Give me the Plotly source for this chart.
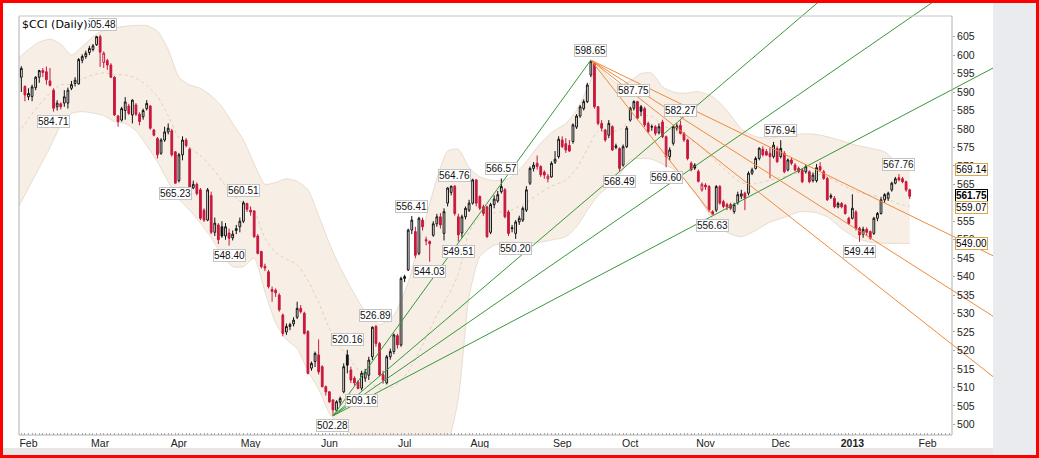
import pandas as pd
import plotly.graph_objects as go

# --- data --------------------------------------------------------------------
# trading sessions: Jan 30 2012 .. Jan 25 2013 (US market holidays removed)
holidays = ["2012-02-20", "2012-04-06", "2012-05-28", "2012-07-04", "2012-09-03",
            "2012-10-29", "2012-10-30", "2012-11-22", "2012-12-25", "2013-01-01",
            "2013-01-21"]

opens = [
    594.0, 591.5, 588.7, 588.8, 591.2, 594.0, 595.8, 595.5, 593.0, 590.5,
    586.0, 586.8, 587.0, 587.0, 591.0, 592.3, 592.2, 598.6, 599.6, 600.7,
    601.5, 602.8, 605.0, 598.0, 598.5, 597.3, 594.0, 583.5, 582.4, 585.0,
    586.2, 583.8, 586.5, 584.0, 583.3, 585.5, 586.2, 579.7, 577.4, 573.4,
    577.0, 579.2, 579.5, 573.8, 566.0, 573.0, 577.0, 574.5, 564.0, 565.0,
    563.5, 558.0, 555.3, 562.0, 552.0, 554.0, 553.5, 551.0, 551.8, 550.5,
    552.5, 553.5, 555.0, 559.8, 558.0, 557.8, 551.0, 546.8, 542.8, 541.3,
    536.5, 536.3, 535.0, 529.6, 525.0, 526.5, 527.2, 529.0, 531.4, 530.1,
    525.1, 515.2, 517.0, 518.8, 515.6, 510.2, 508.8, 506.6, 503.8, 506.0,
    508.8, 518.8, 514.7, 512.5, 511.5, 509.8, 512.5, 513.3, 518.3, 526.5,
    521.9, 513.4, 511.2, 518.3, 519.7, 524.0, 521.5, 539.5, 541.8, 552.6,
    552.2, 546.3, 555.3, 550.0, 549.5, 551.2, 554.3, 556.2, 551.7, 559.9,
    562.8, 564.5, 556.2, 551.8, 556.2, 558.0, 559.9, 566.2, 561.7, 558.9,
    558.9, 552.0, 559.5, 560.5, 563.0, 563.5, 557.5, 553.0, 551.7, 554.8,
    555.3, 558.0, 565.3, 569.3, 570.7, 569.8, 568.3, 566.5, 567.0, 571.0,
    572.5, 577.0, 576.0, 575.5, 576.6, 580.5, 583.5, 585.5, 587.4, 594.6,
    597.8, 586.0, 581.5, 579.7, 578.3, 580.6, 575.0, 574.7, 570.2, 575.2,
    582.4, 585.6, 587.4, 586.0, 585.5, 581.5, 580.5, 580.6, 579.0, 581.9,
    577.9, 572.5, 576.1, 580.2, 581.0, 578.8, 577.0, 570.7, 570.2, 568.5,
    563.5, 564.8, 564.4, 557.6, 558.0, 564.4, 560.3, 559.5, 559.5, 557.6,
    560.0, 561.8, 562.6, 562.6, 568.0, 569.3, 572.0, 574.5, 573.9, 573.4,
    572.5, 574.7, 572.5, 573.4, 568.9, 571.6, 570.2, 569.3, 568.9, 568.4,
    568.4, 566.0, 566.0, 569.8, 568.4, 566.6, 561.5, 561.2, 558.9, 559.8,
    559.3, 555.8, 555.8, 557.5, 553.1, 551.5, 552.8, 552.2, 551.7, 555.8,
    557.1, 560.8, 561.2, 563.5, 565.3, 566.8, 566.5, 565.7, 563.5,
]
highs = [
    597.0, 591.8, 591.0, 592.0, 594.3, 596.0, 596.5, 596.9, 596.5, 591.0,
    587.8, 587.2, 590.5, 591.2, 593.0, 594.0, 599.2, 600.2, 601.2, 602.5,
    603.0, 605.2, 605.48, 601.0, 599.0, 597.8, 594.3, 583.8, 586.0, 588.6,
    586.8, 588.0, 587.0, 584.5, 585.5, 587.8, 586.5, 580.0, 577.8, 577.5,
    580.6, 581.5, 580.0, 574.0, 573.5, 578.0, 577.5, 575.0, 566.0, 565.5,
    564.0, 558.5, 564.0, 563.0, 556.0, 554.5, 555.0, 554.5, 553.0, 552.5,
    554.0, 556.0, 560.51, 560.0, 559.0, 558.0, 551.5, 547.0, 543.5, 541.8,
    537.3, 536.8, 535.5, 530.0, 527.3, 527.5, 529.0, 533.2, 532.3, 530.5,
    525.5, 517.0, 519.7, 523.0, 516.0, 510.5, 509.0, 506.8, 506.5, 507.5,
    516.5, 520.16, 515.6, 513.0, 512.0, 514.5, 515.0, 518.3, 526.5, 526.89,
    522.3, 514.5, 518.8, 520.5, 524.6, 524.5, 540.0, 540.5, 553.0, 556.41,
    553.5, 556.2, 556.0, 550.8, 549.8, 555.0, 557.0, 557.2, 558.5, 564.2,
    564.6, 564.76, 557.0, 556.8, 559.0, 560.8, 566.5, 566.4, 562.0, 559.5,
    559.2, 560.0, 562.0, 563.2, 566.57, 564.0, 558.0, 554.0, 555.3, 556.5,
    559.0, 564.5, 569.8, 571.0, 572.8, 570.2, 568.8, 567.8, 571.2, 574.0,
    578.0, 578.0, 577.5, 577.0, 581.5, 584.0, 586.5, 588.0, 592.5, 598.65,
    598.0, 586.2, 582.4, 580.0, 582.4, 581.0, 576.0, 575.0, 575.8, 580.8,
    586.0, 587.75, 587.6, 586.5, 586.0, 582.0, 581.2, 581.0, 581.5, 582.5,
    578.2, 575.0, 581.0, 581.5, 582.27, 579.2, 577.3, 571.2, 570.7, 569.0,
    565.5, 565.3, 564.8, 558.0, 564.8, 564.8, 560.8, 560.0, 560.0, 560.0,
    563.0, 563.5, 563.0, 568.5, 569.5, 572.5, 575.0, 575.3, 574.5, 575.0,
    576.5, 575.3, 576.94, 574.0, 572.0, 572.2, 570.7, 569.8, 569.2, 570.3,
    568.8, 568.2, 570.5, 571.0, 568.9, 567.0, 562.5, 561.8, 560.3, 560.2,
    559.7, 556.2, 562.3, 558.0, 553.5, 553.5, 553.3, 552.5, 556.2, 557.5,
    561.5, 562.6, 563.0, 565.7, 567.0, 567.76, 567.0, 566.0, 563.8,
]
lows = [
    590.0, 587.5, 587.8, 587.5, 590.5, 592.5, 594.0, 592.0, 591.5, 584.71,
    585.0, 585.3, 586.0, 585.5, 590.5, 591.5, 592.0, 597.8, 599.0, 600.0,
    601.0, 602.5, 596.8, 596.5, 596.0, 593.8, 583.5, 580.6, 582.0, 582.5,
    583.8, 581.5, 583.5, 581.0, 582.5, 585.0, 579.8, 578.0, 572.0, 573.0,
    576.5, 578.5, 572.5, 565.23, 565.5, 571.5, 575.0, 563.5, 563.7, 562.0,
    555.3, 554.8, 555.0, 551.5, 551.0, 548.8, 550.5, 550.0, 548.4, 549.8,
    551.5, 552.0, 554.5, 557.5, 556.5, 550.5, 546.0, 542.2, 541.5, 536.8,
    533.2, 534.5, 530.5, 523.8, 524.2, 525.5, 526.5, 528.5, 530.0, 524.3,
    513.5, 514.5, 515.5, 513.5, 510.0, 507.8, 505.8, 502.28, 503.5, 505.0,
    508.4, 513.8, 511.2, 510.5, 509.5, 509.16, 511.5, 512.0, 517.4, 521.0,
    513.0, 511.0, 510.8, 517.5, 519.0, 520.5, 521.0, 538.5, 541.5, 551.5,
    545.0, 545.8, 552.5, 548.5, 544.03, 550.8, 553.5, 553.0, 549.8, 559.0,
    562.0, 556.5, 549.51, 550.5, 555.5, 557.5, 559.5, 559.0, 558.0, 556.5,
    550.5, 551.5, 558.5, 560.0, 562.5, 555.8, 551.0, 552.0, 550.2, 554.0,
    554.8, 557.5, 564.8, 568.5, 569.0, 567.0, 566.5, 565.5, 566.8, 570.5,
    572.0, 574.8, 573.5, 573.8, 576.0, 580.0, 583.0, 585.0, 587.0, 594.0,
    585.5, 581.0, 579.3, 576.5, 577.5, 574.0, 574.5, 568.49, 569.8, 574.8,
    582.0, 585.0, 582.5, 583.5, 580.5, 578.8, 579.5, 578.2, 578.5, 577.5,
    569.6, 571.5, 575.5, 579.5, 578.5, 576.5, 571.5, 568.5, 568.9, 565.5,
    563.0, 563.5, 557.5, 556.63, 557.5, 559.5, 558.5, 558.0, 558.0, 557.0,
    559.5, 561.0, 558.0, 562.0, 567.5, 569.0, 571.5, 572.5, 572.8, 566.6,
    572.0, 570.8, 572.0, 568.0, 568.5, 570.2, 568.5, 568.0, 565.3, 567.9,
    565.3, 565.5, 565.5, 568.5, 566.2, 560.5, 561.0, 558.5, 558.5, 558.5,
    556.8, 554.0, 555.5, 552.5, 549.44, 550.5, 551.0, 550.0, 551.3, 555.0,
    556.8, 560.0, 560.5, 563.0, 565.0, 565.8, 565.3, 563.0, 561.0,
]
closes = [
    596.4, 589.2, 589.6, 591.4, 594.0, 595.8, 595.3, 593.3, 591.8, 585.6,
    587.0, 586.0, 588.7, 590.5, 592.0, 593.2, 598.8, 599.6, 600.5, 601.8,
    602.5, 605.0, 600.8, 600.5, 597.3, 594.0, 583.8, 582.0, 585.5, 587.3,
    584.2, 587.8, 584.0, 582.0, 585.0, 586.9, 580.2, 578.3, 573.0, 577.0,
    579.2, 580.2, 573.0, 565.3, 573.0, 577.0, 575.5, 564.0, 565.0, 562.5,
    555.8, 555.3, 563.5, 552.0, 554.5, 550.0, 551.0, 553.5, 550.4, 551.5,
    553.0, 555.0, 560.0, 558.2, 557.5, 550.8, 546.3, 542.7, 542.3, 537.3,
    536.0, 535.6, 531.0, 524.6, 526.5, 527.0, 528.2, 531.4, 530.5, 524.6,
    513.8, 516.5, 519.2, 514.2, 510.2, 508.8, 506.1, 503.9, 506.1, 507.0,
    515.6, 516.0, 512.0, 511.2, 509.7, 513.8, 514.2, 517.4, 526.3, 521.9,
    513.4, 512.0, 518.3, 519.7, 524.2, 521.5, 539.5, 540.0, 552.6, 555.3,
    545.8, 555.8, 553.5, 549.7, 548.9, 554.3, 556.2, 554.0, 557.6, 564.0,
    564.5, 557.1, 551.3, 556.2, 558.5, 559.9, 566.2, 559.9, 558.5, 557.1,
    550.8, 559.5, 561.0, 562.2, 564.4, 556.2, 551.7, 553.2, 554.8, 555.8,
    558.5, 563.5, 569.3, 570.2, 569.8, 567.6, 567.5, 567.2, 570.7, 571.8,
    577.2, 575.2, 574.3, 574.0, 581.1, 583.5, 586.0, 587.4, 591.9, 598.3,
    586.0, 581.5, 580.2, 577.0, 581.5, 574.3, 575.4, 569.3, 575.2, 580.2,
    585.6, 587.4, 582.9, 584.8, 581.1, 579.3, 580.6, 578.8, 580.6, 577.9,
    572.5, 574.3, 580.6, 580.8, 578.8, 577.0, 572.0, 568.9, 569.4, 565.8,
    565.0, 564.3, 558.0, 556.9, 564.4, 559.9, 559.0, 558.9, 558.5, 559.5,
    562.2, 562.4, 561.2, 568.0, 568.9, 572.0, 574.8, 573.0, 572.9, 572.5,
    575.6, 571.1, 574.7, 568.4, 571.6, 570.7, 568.9, 568.4, 565.7, 569.8,
    565.7, 567.5, 569.5, 568.9, 566.6, 560.8, 561.9, 558.9, 559.8, 558.9,
    557.1, 554.4, 558.5, 553.0, 551.3, 552.8, 552.0, 550.4, 555.8, 557.1,
    560.8, 562.2, 562.6, 565.3, 566.5, 566.2, 565.7, 563.5, 561.75,
]

# Bollinger band (20,2) read at sample sessions (session number from Jan 30 2012)
band_day = [
    -1, 2, 5, 8, 11, 14, 17, 20, 23, 26, 29, 32, 35, 38, 41, 44, 47, 50, 53, 56,
    59, 62, 65, 68, 71, 74, 77, 80, 83, 86, 89, 92, 96, 100, 104, 108, 112, 116, 119, 122,
    125, 128, 132, 136, 140, 144, 148, 152, 155, 158, 161, 164, 167, 170, 173, 176, 179, 182, 185, 189,
    193, 197, 201, 205, 209, 213, 217, 221, 225, 229, 233, 237, 241, 245, 248,
]
band_upper = [
    599.0, 601.5, 603.5, 604.3, 603.0, 600.0, 602.3, 605.0, 606.8, 607.4,
    607.8, 608.0, 608.0, 606.5, 601.5, 594.0, 591.9, 591.0, 589.0, 586.0,
    581.5, 577.0, 570.5, 565.0, 565.5, 566.5, 565.8, 563.5, 556.5, 549.0,
    542.5, 537.0, 530.5, 527.0, 529.5, 538.5, 552.5, 566.5, 574.0, 574.5,
    569.5, 567.0, 566.0, 566.5, 570.0, 575.0, 579.0, 581.5, 585.0, 591.0,
    597.0, 594.0, 592.0, 593.0, 595.0, 595.1, 591.4, 590.0, 589.6, 590.1,
    588.7, 585.0, 580.0, 577.9, 577.5, 578.2, 578.6, 578.6, 577.9, 576.8,
    575.6, 574.8, 573.8, 570.3, 569.14,
]
band_lower = [
    558.5, 564.0, 569.5, 575.0, 581.0, 584.2, 584.7, 584.3, 583.6, 582.0,
    581.5, 579.5, 575.5, 571.1, 565.7, 561.0, 558.0, 554.5, 550.5, 545.9,
    542.7, 542.7, 545.0, 536.0, 527.5, 523.0, 520.5, 514.5, 509.5, 503.0,
    499.5, 497.5, 494.5, 492.5, 491.0, 490.0, 490.5, 492.5, 495.0, 507.0,
    534.6, 545.4, 548.5, 549.0, 549.0, 549.2, 549.9, 550.8, 553.5, 558.0,
    562.0, 564.5, 567.5, 571.6, 572.0, 571.8, 570.5, 569.2, 566.5, 561.6,
    555.5, 552.0, 550.8, 552.5, 554.8, 556.0, 557.5, 557.5, 556.2, 553.0,
    550.5, 549.3, 549.0, 549.0, 549.0,
]

# annotated swing highs / lows (session number, value, label above?)
label_day = [22, 9, 43, 62, 58, 87, 91, 95, 99, 109, 114, 121, 122, 134, 138,
             159, 171, 167, 184, 180, 193, 212, 234, 245]
label_value = [605.48, 584.71, 565.23, 560.51, 548.40, 502.28, 520.16, 509.16, 526.89,
               556.41, 544.03, 564.76, 549.51, 566.57, 550.20, 598.65, 587.75, 568.49,
               582.27, 569.60, 556.63, 576.94, 549.44, 567.76]
label_above = [True, False, False, True, False, False, True, False, True, True, False,
               True, False, True, False, True, True, False, True, False, False, True,
               False, True]

# fan anchors: green from the June low to the Sept high, orange from the high to the Nov low
fan_low = (87, 502.28)
fan_high = (159, 598.65)
fan_low2 = (193, 556.63)
fib_levels = [0.382, 0.5, 0.618]

# 560 sits completely under the value tags in the original, so it is not listed
y_ticks = [500, 505, 510, 515, 520, 525, 530, 535, 540, 545, 550, 555, 565, 570,
           575, 580, 585, 590, 595, 600, 605]

# --- styling -----------------------------------------------------------------
RED = "#c8183c"
GREEN = "#36993a"
ORANGE = "#f08a3a"
BAND_FILL = "rgb(247,238,230)"
BAND_EDGE = "rgb(233,220,206)"
FONT = "Liberation Sans"
Y_RANGE = [497.10, 614.92]

sessions = [d for d in pd.bdate_range("2012-01-30", "2013-02-15")
            if d.strftime("%Y-%m-%d") not in holidays]
days = list(range(len(closes)))

month_ticks, month_text = [], []
last_month = sessions[0].month
for k, d in enumerate(sessions):
    if d.month != last_month:
        month_ticks.append(k)
        month_text.append("<b>2013</b>" if d.month == 1 else d.strftime("%b"))
    last_month = d.month

fig = go.Figure()

# Bollinger band on the base y axis so the candles (overlay axis) sit on top of it
band_mid = [(u + l) / 2 for u, l in zip(band_upper, band_lower)]
fig.add_trace(go.Scatter(x=band_day, y=band_upper, mode="lines", hoverinfo="skip",
                         line=dict(color=BAND_EDGE, width=1, shape="spline", smoothing=0.6)))
fig.add_trace(go.Scatter(x=band_day, y=band_lower, mode="lines", hoverinfo="skip",
                         fill="tonexty", fillcolor=BAND_FILL,
                         line=dict(color=BAND_EDGE, width=1, shape="spline", smoothing=0.6)))
fig.add_trace(go.Scatter(x=band_day, y=band_mid, mode="lines", hoverinfo="skip",
                         line=dict(color="rgb(226,206,186)", width=1, dash="dot",
                                   shape="spline", smoothing=0.6)))

# candles: red when close is below the previous close, black otherwise
prev_close = [opens[0]] + closes[:-1]
for colour, want_red in ((RED, True), ("#111111", False)):
    idx = [k for k in days if (closes[k] < prev_close[k]) == want_red]
    fig.add_trace(go.Candlestick(
        x=[days[k] for k in idx],
        open=[opens[k] for k in idx], high=[highs[k] for k in idx],
        low=[lows[k] for k in idx], close=[closes[k] for k in idx],
        whiskerwidth=0, yaxis="y2",
        increasing=dict(line=dict(color=colour, width=1), fillcolor="white"),
        decreasing=dict(line=dict(color=colour, width=1), fillcolor=colour),
        hoverinfo="skip", showlegend=False,
    ))

# fibonacci fans
x_end = 290


def fan_lines(a, b):
    lines = [([a[0], b[0]], [a[1], b[1]])]
    for r in fib_levels:
        ty = b[1] - r * (b[1] - a[1])
        slope = (ty - a[1]) / (b[0] - a[0])
        lines.append(([a[0], x_end], [a[1], a[1] + slope * (x_end - a[0])]))
    return lines


for colour, (a, b) in ((GREEN, (fan_low, fan_high)), (ORANGE, (fan_high, fan_low2))):
    for lx, ly in fan_lines(a, b):
        fig.add_trace(go.Scatter(x=lx, y=ly, mode="lines", hoverinfo="skip", yaxis="y2",
                                 line=dict(color=colour, width=1)))

annotations = []
for k, v, up in zip(label_day, label_value, label_above):
    annotations.append(dict(
        x=k, y=v, text=f"{v:.2f}", showarrow=False, yshift=10 if up else -10,
        font=dict(family=FONT, size=10, color="#111"),
        bgcolor="white", bordercolor="#c4c4c4", borderwidth=1, borderpad=0))

# chart title (drawn over the 605.48 tag like the original)
annotations.append(dict(
    xref="paper", yref="paper", x=0.002, y=(435 - 24) / 435, xanchor="left", yanchor="middle",
    text="$CCI (Daily)", showarrow=False, bgcolor="white", borderpad=0,
    font=dict(family="DejaVu Sans", size=11, color="#000")))

# right-hand value tags
tag_specs = [
    (band_upper[-1], "#d9a84a", False, 0),
    (closes[-1], "#000000", True, 1),
    (band_mid[-1], "#d9a84a", False, -1),
    (band_lower[-1], "#d9a84a", False, 0),
]
for v, border, bold, shift in tag_specs:
    txt = f"{v:.2f}"
    annotations.append(dict(
        xref="paper", x=(955 - 19) / 974, y=v, xanchor="left", yanchor="middle", yshift=shift,
        text=f"<b>{txt}</b>" if bold else txt, showarrow=False,
        bgcolor="white", bordercolor=border, borderwidth=1, borderpad=0,
        font=dict(family=FONT, size=10, color="#000")))

frame_top = (435 - 16) / 435
frame_right = (952 - 19) / 974
shapes = [
    # plot frame
    dict(type="line", xref="paper", yref="paper", x0=0, x1=0, y0=0, y1=frame_top,
         line=dict(color="#b0b0b0", width=1)),
    dict(type="line", xref="paper", yref="paper", x0=0, x1=frame_right, y0=frame_top, y1=frame_top,
         line=dict(color="#c4c4c4", width=1)),
    dict(type="line", xref="paper", yref="paper", x0=frame_right, x1=frame_right, y0=0, y1=frame_top,
         line=dict(color="#b0b0b0", width=1)),
    dict(type="line", xref="paper", yref="paper", x0=0, x1=frame_right, y0=0, y1=0,
         line=dict(color="#b0b0b0", width=1)),
    # grey side panel and bottom strip
    dict(type="rect", xref="paper", yref="paper", x0=1.0, x1=(1037 - 19) / 974,
         y0=(435 - 456) / 435, y1=1.0, fillcolor="#e9ebee", line=dict(width=0)),
    dict(type="rect", xref="paper", yref="paper", x0=(2 - 19) / 974, x1=1.0,
         y0=(435 - 456) / 435, y1=(435 - 448) / 435, fillcolor="#e6e6e6", line=dict(width=0)),
    # red outer border
    dict(type="rect", xref="paper", yref="paper", x0=(1.5 - 19) / 974, x1=(1037.5 - 19) / 974,
         y0=(435 - 456.5) / 435, y1=(435 - 1.5) / 435, line=dict(color="#ff0000", width=3)),
]

fig.update_layout(
    width=1039, height=458,
    margin=dict(l=19, r=46, t=0, b=23),
    paper_bgcolor="white", plot_bgcolor="white",
    showlegend=False,
    annotations=annotations,
    shapes=shapes,
    xaxis=dict(
        range=[-0.652, 271.26], rangeslider=dict(visible=False),
        showgrid=False, zeroline=False, showline=False,
        tickmode="array", tickvals=month_ticks, ticktext=month_text,
        ticks="", tickfont=dict(family=FONT, size=10.5, color="#222"),
        automargin=False,
        minor=dict(tickmode="array", tickvals=list(range(0, 260)), ticks="inside",
                   ticklen=2, tickcolor="#a8a8a8", showgrid=False),
    ),
    yaxis=dict(
        range=Y_RANGE, side="right", anchor="free", position=frame_right,
        showgrid=False, zeroline=False, showline=False,
        tickmode="array", tickvals=y_ticks, ticks="outside", ticklen=2, tickcolor="#a8a8a8",
        tickfont=dict(family=FONT, size=10.5, color="#222"),
        automargin=False,
    ),
    yaxis2=dict(range=Y_RANGE, overlaying="y", visible=False, showgrid=False,
                zeroline=False, automargin=False),
)

# browsers add an 8px body margin by default; drop it so the figure fills the window
fig.write_html("out.html", config={"displayModeBar": False},
               post_script="document.body.style.margin='0';")
